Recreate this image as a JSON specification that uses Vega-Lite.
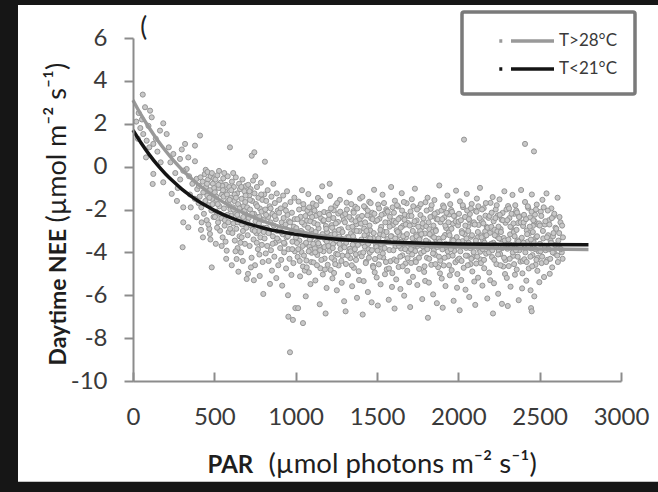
{
"$schema": "https://vega.github.io/schema/vega-lite/v6.json",
"autosize": {"type": "none"},
"width": 488, "height": 343,
"padding": {"left": 133, "top": 38, "right": 37, "bottom": 111},
"background": "#161616",
"config": {"view": {"stroke": null}, "font": "Lato"},
"datasets": {
"pts": [
{"PAR":60,"NEE":3.36},{"PAR":74,"NEE":2.77},{"PAR":105,"NEE":2.61},{"PAR":115,"NEE":2.3},{"PAR":186,"NEE":2.02},{"PAR":166,"NEE":1.68},{"PAR":207,"NEE":1.52},{"PAR":63,"NEE":1.52},{"PAR":84,"NEE":1.21},{"PAR":125,"NEE":1.06},{"PAR":80,"NEE":0.43},{"PAR":125,"NEE":-0.34},{"PAR":121,"NEE":-0.81},{"PAR":186,"NEE":-0.73},{"PAR":20,"NEE":2.1},{"PAR":35,"NEE":2.5},{"PAR":45,"NEE":1.8},{"PAR":95,"NEE":1.9},{"PAR":140,"NEE":1.3},{"PAR":150,"NEE":0.7},{"PAR":30,"NEE":1.3},{"PAR":170,"NEE":0.2},{"PAR":100,"NEE":0.9},{"PAR":55,"NEE":2.2},
{"PAR":238,"NEE":-1.27},{"PAR":309,"NEE":-1.9},{"PAR":309,"NEE":-2.6},{"PAR":340,"NEE":-2.83},{"PAR":305,"NEE":-3.76},{"PAR":320,"NEE":1.06},{"PAR":248,"NEE":0.59},{"PAR":289,"NEE":0.36},{"PAR":340,"NEE":0.43},{"PAR":381,"NEE":0.25},{"PAR":330,"NEE":-0.11},{"PAR":391,"NEE":-0.57},{"PAR":309,"NEE":-0.19},{"PAR":391,"NEE":-2.36},{"PAR":381,"NEE":0.98},{"PAR":220,"NEE":0.9},{"PAR":260,"NEE":-0.3},{"PAR":275,"NEE":-1.0},{"PAR":350,"NEE":-1.3},{"PAR":365,"NEE":-0.8},{"PAR":230,"NEE":0.2},{"PAR":290,"NEE":-0.6},{"PAR":355,"NEE":-1.9},{"PAR":380,"NEE":-1.5},{"PAR":395,"NEE":-1.05},{"PAR":270,"NEE":-1.6},{"PAR":345,"NEE":-0.45},{"PAR":300,"NEE":0.8},
{"PAR":412,"NEE":1.45},{"PAR":422,"NEE":-2.6},{"PAR":473,"NEE":-3.14},{"PAR":484,"NEE":-4.7},{"PAR":405,"NEE":-0.9},{"PAR":410,"NEE":-1.4},{"PAR":415,"NEE":-0.5},{"PAR":420,"NEE":-1.9},{"PAR":428,"NEE":-0.7},{"PAR":432,"NEE":-1.2},{"PAR":436,"NEE":-2.2},{"PAR":441,"NEE":-0.35},{"PAR":445,"NEE":-1.6},{"PAR":449,"NEE":-0.95},{"PAR":453,"NEE":-2.5},{"PAR":457,"NEE":-1.35},{"PAR":461,"NEE":-0.6},{"PAR":465,"NEE":-1.8},{"PAR":469,"NEE":-2.9},{"PAR":474,"NEE":-1.1},{"PAR":478,"NEE":-0.45},{"PAR":482,"NEE":-2.05},{"PAR":487,"NEE":-1.5},{"PAR":491,"NEE":-0.8},{"PAR":495,"NEE":-2.35},{"PAR":499,"NEE":-1.0},{"PAR":430,"NEE":-3.3},{"PAR":447,"NEE":-0.15},{"PAR":463,"NEE":-2.7},{"PAR":489,"NEE":-1.75},{"PAR":403,"NEE":-1.7},{"PAR":418,"NEE":-2.95},{"PAR":458,"NEE":-0.25},{"PAR":476,"NEE":-3.4},{"PAR":497,"NEE":-0.55},
{"PAR":535,"NEE":-2.99},{"PAR":576,"NEE":-3.92},{"PAR":596,"NEE":0.9},{"PAR":503,"NEE":-1.2},{"PAR":507,"NEE":-0.6},{"PAR":511,"NEE":-2.1},{"PAR":515,"NEE":-1.55},{"PAR":519,"NEE":-0.4},{"PAR":523,"NEE":-2.6},{"PAR":527,"NEE":-1.0},{"PAR":531,"NEE":-1.85},{"PAR":539,"NEE":-0.75},{"PAR":543,"NEE":-2.4},{"PAR":547,"NEE":-1.3},{"PAR":551,"NEE":-3.3},{"PAR":555,"NEE":-0.55},{"PAR":559,"NEE":-1.95},{"PAR":563,"NEE":-2.75},{"PAR":567,"NEE":-1.15},{"PAR":571,"NEE":-0.85},{"PAR":580,"NEE":-2.25},{"PAR":584,"NEE":-1.6},{"PAR":588,"NEE":-3.05},{"PAR":592,"NEE":-0.95},{"PAR":599,"NEE":-2.0},{"PAR":509,"NEE":-3.6},{"PAR":517,"NEE":-2.85},{"PAR":529,"NEE":-0.2},{"PAR":545,"NEE":-3.7},{"PAR":557,"NEE":-1.4},{"PAR":565,"NEE":-2.5},{"PAR":573,"NEE":-4.3},{"PAR":582,"NEE":-0.45},{"PAR":590,"NEE":-1.8},{"PAR":597,"NEE":-2.9},{"PAR":504,"NEE":-2.35},{"PAR":521,"NEE":-1.75},{"PAR":549,"NEE":-0.9},{"PAR":569,"NEE":-3.5},{"PAR":586,"NEE":-2.6},
{"PAR":637,"NEE":-4.31},{"PAR":699,"NEE":-5.24},{"PAR":602,"NEE":-1.45},{"PAR":605,"NEE":-2.3},{"PAR":608,"NEE":-0.7},{"PAR":611,"NEE":-3.1},{"PAR":614,"NEE":-1.9},{"PAR":617,"NEE":-2.65},{"PAR":620,"NEE":-0.95},{"PAR":623,"NEE":-1.6},{"PAR":626,"NEE":-3.45},{"PAR":629,"NEE":-2.15},{"PAR":632,"NEE":-0.5},{"PAR":635,"NEE":-2.9},{"PAR":640,"NEE":-1.25},{"PAR":643,"NEE":-3.8},{"PAR":646,"NEE":-1.75},{"PAR":649,"NEE":-2.45},{"PAR":652,"NEE":-0.8},{"PAR":655,"NEE":-3.25},{"PAR":658,"NEE":-1.05},{"PAR":661,"NEE":-2.0},{"PAR":664,"NEE":-4.0},{"PAR":667,"NEE":-1.5},{"PAR":670,"NEE":-2.7},{"PAR":673,"NEE":-0.6},{"PAR":676,"NEE":-3.0},{"PAR":679,"NEE":-1.85},{"PAR":682,"NEE":-2.5},{"PAR":685,"NEE":-1.15},{"PAR":688,"NEE":-3.6},{"PAR":691,"NEE":-2.2},{"PAR":694,"NEE":-0.9},{"PAR":697,"NEE":-2.85},{"PAR":607,"NEE":-4.6},{"PAR":625,"NEE":-1.3},{"PAR":644,"NEE":-2.6},{"PAR":660,"NEE":-3.55},{"PAR":675,"NEE":-4.4},{"PAR":690,"NEE":-1.65},{"PAR":616,"NEE":-0.3},{"PAR":648,"NEE":-4.9},{"PAR":668,"NEE":-3.3},{"PAR":686,"NEE":-2.05},{"PAR":630,"NEE":-3.95},
{"PAR":730,"NEE":0.51},{"PAR":746,"NEE":0.67},{"PAR":702,"NEE":-1.9},{"PAR":705,"NEE":-3.2},{"PAR":708,"NEE":-0.85},{"PAR":711,"NEE":-2.4},{"PAR":714,"NEE":-1.35},{"PAR":717,"NEE":-3.7},{"PAR":720,"NEE":-2.0},{"PAR":723,"NEE":-1.05},{"PAR":726,"NEE":-2.75},{"PAR":729,"NEE":-4.25},{"PAR":732,"NEE":-1.6},{"PAR":735,"NEE":-2.95},{"PAR":738,"NEE":-0.65},{"PAR":741,"NEE":-3.4},{"PAR":744,"NEE":-2.2},{"PAR":747,"NEE":-1.25},{"PAR":750,"NEE":-4.6},{"PAR":753,"NEE":-2.55},{"PAR":756,"NEE":-1.75},{"PAR":759,"NEE":-3.1},{"PAR":762,"NEE":-0.95},{"PAR":765,"NEE":-2.35},{"PAR":768,"NEE":-3.85},{"PAR":771,"NEE":-1.45},{"PAR":774,"NEE":-2.65},{"PAR":777,"NEE":-4.1},{"PAR":780,"NEE":-1.95},{"PAR":783,"NEE":-3.3},{"PAR":786,"NEE":-0.75},{"PAR":789,"NEE":-2.45},{"PAR":792,"NEE":-3.65},{"PAR":795,"NEE":-1.55},{"PAR":798,"NEE":-2.85},{"PAR":707,"NEE":-5.0},{"PAR":725,"NEE":-4.7},{"PAR":743,"NEE":-5.3},{"PAR":761,"NEE":-3.55},{"PAR":779,"NEE":-5.1},{"PAR":797,"NEE":-4.45},{"PAR":716,"NEE":-1.15},{"PAR":752,"NEE":-0.45},{"PAR":773,"NEE":-3.0},{"PAR":790,"NEE":-2.1},
{"PAR":811,"NEE":0.23},{"PAR":801,"NEE":-5.94},{"PAR":842,"NEE":-5.47},{"PAR":965,"NEE":-8.66},{"PAR":803,"NEE":-2.5},{"PAR":806,"NEE":-1.3},{"PAR":809,"NEE":-3.35},{"PAR":813,"NEE":-2.0},{"PAR":816,"NEE":-4.05},{"PAR":819,"NEE":-1.6},{"PAR":822,"NEE":-2.85},{"PAR":825,"NEE":-3.7},{"PAR":828,"NEE":-1.1},{"PAR":831,"NEE":-2.35},{"PAR":834,"NEE":-4.4},{"PAR":837,"NEE":-3.05},{"PAR":840,"NEE":-1.85},{"PAR":845,"NEE":-2.6},{"PAR":848,"NEE":-3.9},{"PAR":851,"NEE":-1.4},{"PAR":854,"NEE":-4.85},{"PAR":857,"NEE":-2.2},{"PAR":860,"NEE":-3.25},{"PAR":863,"NEE":-0.8},{"PAR":866,"NEE":-2.75},{"PAR":869,"NEE":-4.2},{"PAR":872,"NEE":-1.7},{"PAR":875,"NEE":-3.55},{"PAR":878,"NEE":-2.45},{"PAR":881,"NEE":-5.2},{"PAR":884,"NEE":-1.25},{"PAR":887,"NEE":-3.0},{"PAR":890,"NEE":-2.05},{"PAR":893,"NEE":-4.6},{"PAR":896,"NEE":-3.45},{"PAR":899,"NEE":-1.55},{"PAR":902,"NEE":-2.9},{"PAR":905,"NEE":-3.8},{"PAR":908,"NEE":-1.95},{"PAR":911,"NEE":-4.35},{"PAR":914,"NEE":-2.6},{"PAR":917,"NEE":-5.55},{"PAR":920,"NEE":-3.15},{"PAR":923,"NEE":-1.35},{"PAR":926,"NEE":-2.4},{"PAR":929,"NEE":-4.0},{"PAR":932,"NEE":-3.6},{"PAR":935,"NEE":-1.8},{"PAR":938,"NEE":-2.7},{"PAR":941,"NEE":-4.75},{"PAR":944,"NEE":-3.3},{"PAR":947,"NEE":-1.15},{"PAR":950,"NEE":-2.25},{"PAR":953,"NEE":-6.0},{"PAR":956,"NEE":-3.85},{"PAR":959,"NEE":-2.55},{"PAR":962,"NEE":-4.3},{"PAR":968,"NEE":-1.65},{"PAR":971,"NEE":-3.1},{"PAR":974,"NEE":-5.05},{"PAR":977,"NEE":-2.15},{"PAR":980,"NEE":-3.5},{"PAR":983,"NEE":-7.15},{"PAR":986,"NEE":-4.5},{"PAR":989,"NEE":-2.8},{"PAR":992,"NEE":-1.45},{"PAR":995,"NEE":-3.95},{"PAR":998,"NEE":-6.6},{"PAR":955,"NEE":-7.0},{"PAR":1045,"NEE":-7.3},
{"PAR":455,"NEE":-0.8},{"PAR":470,"NEE":-1.45},{"PAR":485,"NEE":-0.3},{"PAR":512,"NEE":-1.4},{"PAR":525,"NEE":-0.85},{"PAR":533,"NEE":-2.2},{"PAR":553,"NEE":-1.1},{"PAR":561,"NEE":-0.3},{"PAR":578,"NEE":-1.3},{"PAR":594,"NEE":-1.55},{"PAR":604,"NEE":-1.1},{"PAR":618,"NEE":-2.0},{"PAR":633,"NEE":-1.45},{"PAR":641,"NEE":-2.25},{"PAR":654,"NEE":-1.95},{"PAR":666,"NEE":-0.95},{"PAR":678,"NEE":-2.35},{"PAR":692,"NEE":-1.35},{"PAR":704,"NEE":-2.6},{"PAR":719,"NEE":-1.55},{"PAR":733,"NEE":-2.2},{"PAR":748,"NEE":-3.0},{"PAR":763,"NEE":-1.85},{"PAR":776,"NEE":-2.35},{"PAR":788,"NEE":-1.3},{"PAR":804,"NEE":-3.05},{"PAR":818,"NEE":-2.25},{"PAR":833,"NEE":-3.1},{"PAR":846,"NEE":-1.95},{"PAR":858,"NEE":-3.6},{"PAR":871,"NEE":-2.3},{"PAR":886,"NEE":-3.35},{"PAR":898,"NEE":-2.15},{"PAR":912,"NEE":-3.05},{"PAR":928,"NEE":-3.55},{"PAR":940,"NEE":-2.05},{"PAR":952,"NEE":-3.25},{"PAR":966,"NEE":-2.6},{"PAR":979,"NEE":-3.85},{"PAR":994,"NEE":-2.45},
{"PAR":1004,"NEE":-2.87},{"PAR":1012,"NEE":-4.21},{"PAR":1018,"NEE":-1.63},{"PAR":1023,"NEE":-3.45},{"PAR":1027,"NEE":-5.12},{"PAR":1031,"NEE":-2.34},{"PAR":1036,"NEE":-3.98},{"PAR":1041,"NEE":-3.07},{"PAR":1045,"NEE":-4.66},{"PAR":1049,"NEE":-1.95},{"PAR":1053,"NEE":-2.71},{"PAR":1058,"NEE":-3.62},{"PAR":1062,"NEE":-6.05},{"PAR":1066,"NEE":-4.38},{"PAR":1070,"NEE":-2.52},{"PAR":1074,"NEE":-3.21},{"PAR":1078,"NEE":-1.28},{"PAR":1081,"NEE":-4.93},{"PAR":1085,"NEE":-3.74},{"PAR":1088,"NEE":-2.18},{"PAR":1091,"NEE":-5.48},{"PAR":1094,"NEE":-3.33},{"PAR":1097,"NEE":-2.96},{"PAR":1099,"NEE":-4.02},{"PAR":1008,"NEE":-3.56},{"PAR":1015,"NEE":-6.6},{"PAR":1039,"NEE":-1.1},{"PAR":1056,"NEE":-4.85},{"PAR":1072,"NEE":-2.05},{"PAR":1093,"NEE":-3.88},
{"PAR":1002,"NEE":-3.3},{"PAR":1010,"NEE":-2.45},{"PAR":1016,"NEE":-3.85},{"PAR":1021,"NEE":-2.0},{"PAR":1025,"NEE":-4.4},{"PAR":1033,"NEE":-3.0},{"PAR":1038,"NEE":-2.6},{"PAR":1043,"NEE":-3.7},{"PAR":1047,"NEE":-1.75},{"PAR":1051,"NEE":-4.15},{"PAR":1055,"NEE":-3.2},{"PAR":1060,"NEE":-2.3},{"PAR":1064,"NEE":-3.55},{"PAR":1068,"NEE":-4.7},{"PAR":1076,"NEE":-2.85},{"PAR":1080,"NEE":-3.95},{"PAR":1083,"NEE":-1.9},{"PAR":1087,"NEE":-3.4},{"PAR":1090,"NEE":-2.55},{"PAR":1096,"NEE":-4.45},
{"PAR":1102,"NEE":-3.14},{"PAR":1106,"NEE":-1.72},{"PAR":1110,"NEE":-4.47},{"PAR":1114,"NEE":-2.63},{"PAR":1118,"NEE":-3.81},{"PAR":1121,"NEE":-5.31},{"PAR":1125,"NEE":-2.29},{"PAR":1129,"NEE":-3.52},{"PAR":1133,"NEE":-4.12},{"PAR":1137,"NEE":-1.46},{"PAR":1141,"NEE":-2.88},{"PAR":1145,"NEE":-3.69},{"PAR":1148,"NEE":-6.42},{"PAR":1152,"NEE":-4.74},{"PAR":1156,"NEE":-2.41},{"PAR":1160,"NEE":-3.27},{"PAR":1163,"NEE":-0.92},{"PAR":1167,"NEE":-5.03},{"PAR":1171,"NEE":-3.95},{"PAR":1175,"NEE":-2.12},{"PAR":1178,"NEE":-4.29},{"PAR":1182,"NEE":-3.41},{"PAR":1186,"NEE":-2.77},{"PAR":1190,"NEE":-5.66},{"PAR":1193,"NEE":-3.06},{"PAR":1197,"NEE":-4.58},{"PAR":1112,"NEE":-1.98},{"PAR":1139,"NEE":-3.58},{"PAR":1169,"NEE":-2.54},{"PAR":1184,"NEE":-6.85},
{"PAR":1101,"NEE":-2.35},{"PAR":1108,"NEE":-3.6},{"PAR":1116,"NEE":-2.05},{"PAR":1120,"NEE":-4.0},{"PAR":1123,"NEE":-3.05},{"PAR":1127,"NEE":-1.8},{"PAR":1131,"NEE":-4.6},{"PAR":1135,"NEE":-2.7},{"PAR":1143,"NEE":-3.3},{"PAR":1147,"NEE":-2.2},{"PAR":1150,"NEE":-3.9},{"PAR":1154,"NEE":-1.6},{"PAR":1158,"NEE":-4.35},{"PAR":1165,"NEE":-3.15},{"PAR":1173,"NEE":-2.5},{"PAR":1177,"NEE":-3.75},{"PAR":1180,"NEE":-4.8},{"PAR":1188,"NEE":-2.9},{"PAR":1192,"NEE":-3.5},{"PAR":1199,"NEE":-2.15},
{"PAR":1203,"NEE":-2.46},{"PAR":1207,"NEE":-3.93},{"PAR":1211,"NEE":-1.37},{"PAR":1215,"NEE":-4.82},{"PAR":1219,"NEE":-3.18},{"PAR":1222,"NEE":-2.73},{"PAR":1226,"NEE":-5.21},{"PAR":1230,"NEE":-3.61},{"PAR":1234,"NEE":-2.04},{"PAR":1238,"NEE":-4.36},{"PAR":1241,"NEE":-3.02},{"PAR":1245,"NEE":-1.82},{"PAR":1249,"NEE":-4.07},{"PAR":1253,"NEE":-5.77},{"PAR":1257,"NEE":-3.49},{"PAR":1260,"NEE":-2.58},{"PAR":1264,"NEE":-4.61},{"PAR":1268,"NEE":-3.26},{"PAR":1272,"NEE":-1.55},{"PAR":1276,"NEE":-3.84},{"PAR":1279,"NEE":-2.92},{"PAR":1283,"NEE":-5.42},{"PAR":1287,"NEE":-4.15},{"PAR":1290,"NEE":-2.31},{"PAR":1294,"NEE":-3.71},{"PAR":1298,"NEE":-6.28},{"PAR":1209,"NEE":-0.8},{"PAR":1236,"NEE":-4.96},{"PAR":1262,"NEE":-2.19},{"PAR":1285,"NEE":-3.37},
{"PAR":1201,"NEE":-3.7},{"PAR":1205,"NEE":-2.25},{"PAR":1213,"NEE":-3.35},{"PAR":1217,"NEE":-1.95},{"PAR":1221,"NEE":-4.25},{"PAR":1224,"NEE":-2.85},{"PAR":1228,"NEE":-3.8},{"PAR":1232,"NEE":-2.4},{"PAR":1240,"NEE":-3.15},{"PAR":1243,"NEE":-4.55},{"PAR":1247,"NEE":-2.65},{"PAR":1251,"NEE":-3.45},{"PAR":1255,"NEE":-1.7},{"PAR":1259,"NEE":-4.1},{"PAR":1266,"NEE":-2.95},{"PAR":1270,"NEE":-3.6},{"PAR":1274,"NEE":-2.1},{"PAR":1281,"NEE":-4.4},{"PAR":1288,"NEE":-3.05},{"PAR":1296,"NEE":-2.5},
{"PAR":1301,"NEE":-3.76},{"PAR":1305,"NEE":-2.21},{"PAR":1309,"NEE":-4.54},{"PAR":1313,"NEE":-1.68},{"PAR":1317,"NEE":-3.29},{"PAR":1321,"NEE":-5.06},{"PAR":1324,"NEE":-2.84},{"PAR":1328,"NEE":-3.97},{"PAR":1332,"NEE":-1.19},{"PAR":1336,"NEE":-4.27},{"PAR":1340,"NEE":-3.11},{"PAR":1343,"NEE":-2.47},{"PAR":1347,"NEE":-5.58},{"PAR":1351,"NEE":-3.64},{"PAR":1355,"NEE":-2.08},{"PAR":1358,"NEE":-4.72},{"PAR":1362,"NEE":-3.43},{"PAR":1366,"NEE":-1.87},{"PAR":1370,"NEE":-4.09},{"PAR":1373,"NEE":-2.69},{"PAR":1377,"NEE":-6.12},{"PAR":1381,"NEE":-3.54},{"PAR":1385,"NEE":-2.36},{"PAR":1388,"NEE":-4.88},{"PAR":1392,"NEE":-3.01},{"PAR":1396,"NEE":-1.49},{"PAR":1307,"NEE":-6.75},{"PAR":1334,"NEE":-3.83},{"PAR":1360,"NEE":-2.97},{"PAR":1390,"NEE":-5.29},
{"PAR":1303,"NEE":-2.6},{"PAR":1311,"NEE":-3.55},{"PAR":1315,"NEE":-2.0},{"PAR":1319,"NEE":-4.15},{"PAR":1326,"NEE":-3.3},{"PAR":1330,"NEE":-2.35},{"PAR":1338,"NEE":-3.95},{"PAR":1342,"NEE":-1.75},{"PAR":1345,"NEE":-4.6},{"PAR":1349,"NEE":-2.8},{"PAR":1353,"NEE":-3.25},{"PAR":1357,"NEE":-2.15},{"PAR":1364,"NEE":-3.85},{"PAR":1368,"NEE":-2.55},{"PAR":1371,"NEE":-4.35},{"PAR":1375,"NEE":-3.0},{"PAR":1379,"NEE":-1.95},{"PAR":1383,"NEE":-3.65},{"PAR":1394,"NEE":-2.45},{"PAR":1398,"NEE":-4.05},
{"PAR":1402,"NEE":-2.66},{"PAR":1406,"NEE":-4.18},{"PAR":1410,"NEE":-1.41},{"PAR":1414,"NEE":-3.57},{"PAR":1418,"NEE":-5.34},{"PAR":1421,"NEE":-2.89},{"PAR":1425,"NEE":-3.73},{"PAR":1429,"NEE":-1.93},{"PAR":1433,"NEE":-4.44},{"PAR":1437,"NEE":-3.22},{"PAR":1441,"NEE":-2.27},{"PAR":1444,"NEE":-5.85},{"PAR":1448,"NEE":-3.86},{"PAR":1452,"NEE":-1.64},{"PAR":1456,"NEE":-4.01},{"PAR":1459,"NEE":-2.98},{"PAR":1463,"NEE":-3.46},{"PAR":1467,"NEE":-6.33},{"PAR":1471,"NEE":-2.15},{"PAR":1475,"NEE":-4.63},{"PAR":1478,"NEE":-3.35},{"PAR":1482,"NEE":-1.08},{"PAR":1486,"NEE":-4.93},{"PAR":1490,"NEE":-2.55},{"PAR":1494,"NEE":-3.67},{"PAR":1498,"NEE":-5.17},{"PAR":1412,"NEE":-6.9},{"PAR":1439,"NEE":-3.12},{"PAR":1465,"NEE":-2.42},{"PAR":1488,"NEE":-4.31},
{"PAR":1404,"NEE":-3.4},{"PAR":1408,"NEE":-2.3},{"PAR":1416,"NEE":-4.0},{"PAR":1420,"NEE":-1.85},{"PAR":1423,"NEE":-3.2},{"PAR":1427,"NEE":-2.6},{"PAR":1431,"NEE":-4.5},{"PAR":1435,"NEE":-3.0},{"PAR":1443,"NEE":-2.05},{"PAR":1446,"NEE":-3.6},{"PAR":1450,"NEE":-4.25},{"PAR":1454,"NEE":-2.75},{"PAR":1458,"NEE":-3.35},{"PAR":1461,"NEE":-1.7},{"PAR":1469,"NEE":-3.9},{"PAR":1473,"NEE":-2.45},{"PAR":1477,"NEE":-4.7},{"PAR":1480,"NEE":-3.1},{"PAR":1484,"NEE":-2.2},{"PAR":1496,"NEE":-3.75},
{"PAR":1503,"NEE":-3.92},{"PAR":1507,"NEE":-1.77},{"PAR":1511,"NEE":-4.56},{"PAR":1515,"NEE":-2.43},{"PAR":1519,"NEE":-3.15},{"PAR":1522,"NEE":-5.49},{"PAR":1526,"NEE":-2.81},{"PAR":1530,"NEE":-3.66},{"PAR":1534,"NEE":-1.31},{"PAR":1538,"NEE":-4.24},{"PAR":1541,"NEE":-3.04},{"PAR":1545,"NEE":-2.19},{"PAR":1549,"NEE":-5.02},{"PAR":1553,"NEE":-3.53},{"PAR":1557,"NEE":-1.99},{"PAR":1560,"NEE":-4.79},{"PAR":1564,"NEE":-3.38},{"PAR":1568,"NEE":-2.61},{"PAR":1572,"NEE":-6.21},{"PAR":1576,"NEE":-3.89},{"PAR":1579,"NEE":-2.34},{"PAR":1583,"NEE":-4.41},{"PAR":1587,"NEE":-0.95},{"PAR":1590,"NEE":-3.25},{"PAR":1594,"NEE":-4.97},{"PAR":1598,"NEE":-2.72},{"PAR":1505,"NEE":-6.48},{"PAR":1532,"NEE":-3.79},{"PAR":1562,"NEE":-2.06},{"PAR":1592,"NEE":-5.61},
{"PAR":1501,"NEE":-2.5},{"PAR":1509,"NEE":-3.35},{"PAR":1513,"NEE":-1.95},{"PAR":1517,"NEE":-4.2},{"PAR":1521,"NEE":-2.95},{"PAR":1524,"NEE":-3.6},{"PAR":1528,"NEE":-2.25},{"PAR":1536,"NEE":-4.05},{"PAR":1540,"NEE":-3.2},{"PAR":1543,"NEE":-1.7},{"PAR":1547,"NEE":-3.8},{"PAR":1551,"NEE":-2.6},{"PAR":1555,"NEE":-4.45},{"PAR":1559,"NEE":-3.05},{"PAR":1566,"NEE":-2.1},{"PAR":1570,"NEE":-3.5},{"PAR":1574,"NEE":-4.75},{"PAR":1578,"NEE":-2.8},{"PAR":1585,"NEE":-3.25},{"PAR":1596,"NEE":-1.9},
{"PAR":1602,"NEE":-2.53},{"PAR":1606,"NEE":-4.33},{"PAR":1610,"NEE":-1.59},{"PAR":1614,"NEE":-3.71},{"PAR":1618,"NEE":-5.26},{"PAR":1621,"NEE":-2.97},{"PAR":1625,"NEE":-3.44},{"PAR":1629,"NEE":-1.86},{"PAR":1633,"NEE":-4.68},{"PAR":1637,"NEE":-3.09},{"PAR":1641,"NEE":-2.38},{"PAR":1644,"NEE":-5.71},{"PAR":1648,"NEE":-3.82},{"PAR":1652,"NEE":-1.24},{"PAR":1656,"NEE":-4.14},{"PAR":1659,"NEE":-2.76},{"PAR":1663,"NEE":-3.58},{"PAR":1667,"NEE":-6.02},{"PAR":1671,"NEE":-2.24},{"PAR":1675,"NEE":-4.52},{"PAR":1678,"NEE":-3.31},{"PAR":1682,"NEE":-1.71},{"PAR":1686,"NEE":-4.86},{"PAR":1690,"NEE":-2.63},{"PAR":1694,"NEE":-3.96},{"PAR":1698,"NEE":-5.39},{"PAR":1608,"NEE":-6.62},{"PAR":1639,"NEE":-3.19},{"PAR":1669,"NEE":-2.48},{"PAR":1688,"NEE":-4.27},
{"PAR":1601,"NEE":-3.9},{"PAR":1604,"NEE":-2.15},{"PAR":1612,"NEE":-3.35},{"PAR":1616,"NEE":-2.6},{"PAR":1620,"NEE":-4.4},{"PAR":1623,"NEE":-1.8},{"PAR":1627,"NEE":-3.05},{"PAR":1631,"NEE":-2.45},{"PAR":1635,"NEE":-3.7},{"PAR":1643,"NEE":-4.2},{"PAR":1646,"NEE":-2.85},{"PAR":1650,"NEE":-3.5},{"PAR":1654,"NEE":-2.05},{"PAR":1658,"NEE":-4.65},{"PAR":1661,"NEE":-3.25},{"PAR":1665,"NEE":-1.65},{"PAR":1673,"NEE":-3.85},{"PAR":1677,"NEE":-2.7},{"PAR":1684,"NEE":-3.15},{"PAR":1696,"NEE":-2.3},
{"PAR":1702,"NEE":-3.61},{"PAR":1706,"NEE":-2.09},{"PAR":1710,"NEE":-4.49},{"PAR":1714,"NEE":-1.52},{"PAR":1718,"NEE":-3.34},{"PAR":1721,"NEE":-5.14},{"PAR":1725,"NEE":-2.69},{"PAR":1729,"NEE":-3.88},{"PAR":1733,"NEE":-1.03},{"PAR":1737,"NEE":-4.36},{"PAR":1741,"NEE":-3.17},{"PAR":1744,"NEE":-2.51},{"PAR":1748,"NEE":-5.52},{"PAR":1752,"NEE":-3.47},{"PAR":1756,"NEE":-1.91},{"PAR":1759,"NEE":-4.77},{"PAR":1763,"NEE":-3.28},{"PAR":1767,"NEE":-2.26},{"PAR":1771,"NEE":-4.03},{"PAR":1775,"NEE":-2.85},{"PAR":1778,"NEE":-6.18},{"PAR":1782,"NEE":-3.73},{"PAR":1786,"NEE":-2.42},{"PAR":1790,"NEE":-4.91},{"PAR":1794,"NEE":-3.12},{"PAR":1798,"NEE":-1.66},{"PAR":1704,"NEE":-6.55},{"PAR":1735,"NEE":-3.94},{"PAR":1765,"NEE":-2.99},{"PAR":1796,"NEE":-5.33},
{"PAR":1701,"NEE":-2.75},{"PAR":1708,"NEE":-3.85},{"PAR":1712,"NEE":-2.3},{"PAR":1716,"NEE":-4.1},{"PAR":1720,"NEE":-3.0},{"PAR":1723,"NEE":-1.85},{"PAR":1727,"NEE":-3.55},{"PAR":1731,"NEE":-2.55},{"PAR":1739,"NEE":-4.45},{"PAR":1743,"NEE":-3.25},{"PAR":1746,"NEE":-2.0},{"PAR":1750,"NEE":-3.7},{"PAR":1754,"NEE":-2.8},{"PAR":1758,"NEE":-4.25},{"PAR":1761,"NEE":-3.4},{"PAR":1769,"NEE":-1.75},{"PAR":1773,"NEE":-3.15},{"PAR":1780,"NEE":-2.65},{"PAR":1788,"NEE":-3.95},{"PAR":1792,"NEE":-4.65},
{"PAR":1803,"NEE":-2.78},{"PAR":1807,"NEE":-4.25},{"PAR":1811,"NEE":-1.45},{"PAR":1815,"NEE":-3.52},{"PAR":1819,"NEE":-5.41},{"PAR":1822,"NEE":-2.92},{"PAR":1826,"NEE":-3.69},{"PAR":1830,"NEE":-1.97},{"PAR":1834,"NEE":-4.58},{"PAR":1838,"NEE":-3.23},{"PAR":1842,"NEE":-2.31},{"PAR":1845,"NEE":-5.96},{"PAR":1849,"NEE":-3.91},{"PAR":1853,"NEE":-1.56},{"PAR":1857,"NEE":-4.11},{"PAR":1860,"NEE":-2.94},{"PAR":1864,"NEE":-3.42},{"PAR":1868,"NEE":-6.37},{"PAR":1872,"NEE":-2.13},{"PAR":1876,"NEE":-4.69},{"PAR":1879,"NEE":-3.36},{"PAR":1883,"NEE":-0.88},{"PAR":1887,"NEE":-4.98},{"PAR":1890,"NEE":-2.59},{"PAR":1894,"NEE":-3.63},{"PAR":1898,"NEE":-5.22},{"PAR":1813,"NEE":-7.05},{"PAR":1840,"NEE":-3.05},{"PAR":1866,"NEE":-2.45},{"PAR":1889,"NEE":-4.39},
{"PAR":1801,"NEE":-3.45},{"PAR":1805,"NEE":-2.05},{"PAR":1809,"NEE":-3.85},{"PAR":1817,"NEE":-2.6},{"PAR":1821,"NEE":-4.3},{"PAR":1824,"NEE":-3.15},{"PAR":1828,"NEE":-2.35},{"PAR":1832,"NEE":-3.7},{"PAR":1836,"NEE":-1.8},{"PAR":1844,"NEE":-4.05},{"PAR":1847,"NEE":-2.75},{"PAR":1851,"NEE":-3.3},{"PAR":1855,"NEE":-2.2},{"PAR":1859,"NEE":-4.55},{"PAR":1862,"NEE":-3.0},{"PAR":1870,"NEE":-3.75},{"PAR":1874,"NEE":-2.45},{"PAR":1881,"NEE":-4.2},{"PAR":1885,"NEE":-3.5},{"PAR":1896,"NEE":-2.05},
{"PAR":1902,"NEE":-3.86},{"PAR":1906,"NEE":-1.81},{"PAR":1910,"NEE":-4.61},{"PAR":1914,"NEE":-2.37},{"PAR":1918,"NEE":-3.19},{"PAR":1921,"NEE":-5.57},{"PAR":1925,"NEE":-2.86},{"PAR":1929,"NEE":-3.71},{"PAR":1933,"NEE":-1.35},{"PAR":1937,"NEE":-4.19},{"PAR":1941,"NEE":-3.08},{"PAR":1944,"NEE":-2.23},{"PAR":1948,"NEE":-5.07},{"PAR":1952,"NEE":-3.59},{"PAR":1956,"NEE":-2.02},{"PAR":1959,"NEE":-4.83},{"PAR":1963,"NEE":-3.41},{"PAR":1967,"NEE":-2.66},{"PAR":1971,"NEE":-6.26},{"PAR":1975,"NEE":-3.93},{"PAR":1978,"NEE":-2.29},{"PAR":1982,"NEE":-4.46},{"PAR":1986,"NEE":-1.12},{"PAR":1990,"NEE":-3.29},{"PAR":1994,"NEE":-5.01},{"PAR":1998,"NEE":-2.74},{"PAR":1904,"NEE":-6.58},{"PAR":1931,"NEE":-3.77},{"PAR":1961,"NEE":-2.11},{"PAR":1992,"NEE":-5.65},
{"PAR":1901,"NEE":-2.45},{"PAR":1908,"NEE":-3.3},{"PAR":1912,"NEE":-1.9},{"PAR":1916,"NEE":-4.25},{"PAR":1920,"NEE":-2.75},{"PAR":1923,"NEE":-3.6},{"PAR":1927,"NEE":-2.15},{"PAR":1935,"NEE":-3.95},{"PAR":1939,"NEE":-2.6},{"PAR":1943,"NEE":-4.6},{"PAR":1946,"NEE":-3.2},{"PAR":1950,"NEE":-1.75},{"PAR":1954,"NEE":-3.85},{"PAR":1958,"NEE":-2.9},{"PAR":1965,"NEE":-4.15},{"PAR":1969,"NEE":-3.45},{"PAR":1973,"NEE":-2.3},{"PAR":1980,"NEE":-3.7},{"PAR":1984,"NEE":-2.55},{"PAR":1996,"NEE":-4.35},
{"PAR":2002,"NEE":-2.57},{"PAR":2006,"NEE":-4.29},{"PAR":2010,"NEE":-1.62},{"PAR":2014,"NEE":-3.67},{"PAR":2018,"NEE":-5.29},{"PAR":2021,"NEE":-3.01},{"PAR":2025,"NEE":-3.48},{"PAR":2029,"NEE":-1.89},{"PAR":2033,"NEE":-4.72},{"PAR":2037,"NEE":-3.13},{"PAR":2041,"NEE":-2.35},{"PAR":2044,"NEE":-5.74},{"PAR":2048,"NEE":-3.79},{"PAR":2052,"NEE":-1.27},{"PAR":2056,"NEE":-4.16},{"PAR":2059,"NEE":-2.79},{"PAR":2063,"NEE":-3.55},{"PAR":2067,"NEE":-6.08},{"PAR":2071,"NEE":-2.21},{"PAR":2075,"NEE":-4.55},{"PAR":2078,"NEE":-3.27},{"PAR":2082,"NEE":-1.74},{"PAR":2086,"NEE":-4.89},{"PAR":2090,"NEE":-2.67},{"PAR":2094,"NEE":-3.99},{"PAR":2098,"NEE":-5.36},{"PAR":2008,"NEE":-6.7},{"PAR":2039,"NEE":-3.16},{"PAR":2069,"NEE":-2.51},{"PAR":2088,"NEE":-4.23},{"PAR":2035,"NEE":1.26},
{"PAR":2001,"NEE":-3.5},{"PAR":2004,"NEE":-2.2},{"PAR":2012,"NEE":-3.95},{"PAR":2016,"NEE":-2.5},{"PAR":2020,"NEE":-4.4},{"PAR":2023,"NEE":-3.1},{"PAR":2027,"NEE":-1.8},{"PAR":2031,"NEE":-3.7},{"PAR":2043,"NEE":-2.75},{"PAR":2046,"NEE":-4.15},{"PAR":2050,"NEE":-3.35},{"PAR":2054,"NEE":-2.05},{"PAR":2058,"NEE":-4.6},{"PAR":2061,"NEE":-3.0},{"PAR":2065,"NEE":-2.45},{"PAR":2073,"NEE":-3.8},{"PAR":2077,"NEE":-1.95},{"PAR":2080,"NEE":-4.3},{"PAR":2084,"NEE":-3.2},{"PAR":2096,"NEE":-2.6},
{"PAR":2102,"NEE":-3.64},{"PAR":2106,"NEE":-2.06},{"PAR":2110,"NEE":-4.52},{"PAR":2114,"NEE":-1.49},{"PAR":2118,"NEE":-3.31},{"PAR":2121,"NEE":-5.18},{"PAR":2125,"NEE":-2.72},{"PAR":2129,"NEE":-3.85},{"PAR":2133,"NEE":-0.99},{"PAR":2137,"NEE":-4.33},{"PAR":2141,"NEE":-3.21},{"PAR":2144,"NEE":-2.54},{"PAR":2148,"NEE":-5.55},{"PAR":2152,"NEE":-3.44},{"PAR":2156,"NEE":-1.94},{"PAR":2159,"NEE":-4.74},{"PAR":2163,"NEE":-3.24},{"PAR":2167,"NEE":-2.29},{"PAR":2171,"NEE":-4.06},{"PAR":2175,"NEE":-2.82},{"PAR":2178,"NEE":-6.15},{"PAR":2182,"NEE":-3.76},{"PAR":2186,"NEE":-2.39},{"PAR":2190,"NEE":-4.94},{"PAR":2194,"NEE":-3.09},{"PAR":2198,"NEE":-1.69},{"PAR":2104,"NEE":-6.45},{"PAR":2135,"NEE":-3.97},{"PAR":2165,"NEE":-3.02},{"PAR":2196,"NEE":-5.3},
{"PAR":2101,"NEE":-2.7},{"PAR":2108,"NEE":-3.45},{"PAR":2112,"NEE":-2.1},{"PAR":2116,"NEE":-4.2},{"PAR":2120,"NEE":-3.05},{"PAR":2123,"NEE":-1.85},{"PAR":2127,"NEE":-3.65},{"PAR":2131,"NEE":-2.4},{"PAR":2139,"NEE":-4.5},{"PAR":2143,"NEE":-3.3},{"PAR":2146,"NEE":-2.0},{"PAR":2150,"NEE":-3.85},{"PAR":2154,"NEE":-2.65},{"PAR":2158,"NEE":-4.35},{"PAR":2161,"NEE":-3.55},{"PAR":2169,"NEE":-1.7},{"PAR":2173,"NEE":-3.2},{"PAR":2180,"NEE":-2.85},{"PAR":2188,"NEE":-4.0},{"PAR":2192,"NEE":-2.3},
{"PAR":2203,"NEE":-2.81},{"PAR":2207,"NEE":-4.22},{"PAR":2211,"NEE":-1.42},{"PAR":2215,"NEE":-3.55},{"PAR":2219,"NEE":-5.44},{"PAR":2222,"NEE":-2.95},{"PAR":2226,"NEE":-3.66},{"PAR":2230,"NEE":-2.0},{"PAR":2234,"NEE":-4.55},{"PAR":2238,"NEE":-3.26},{"PAR":2242,"NEE":-2.28},{"PAR":2245,"NEE":-5.93},{"PAR":2249,"NEE":-3.94},{"PAR":2253,"NEE":-1.53},{"PAR":2257,"NEE":-4.08},{"PAR":2260,"NEE":-2.91},{"PAR":2264,"NEE":-3.39},{"PAR":2268,"NEE":-6.4},{"PAR":2272,"NEE":-2.16},{"PAR":2276,"NEE":-4.66},{"PAR":2279,"NEE":-3.33},{"PAR":2283,"NEE":-1.15},{"PAR":2287,"NEE":-5.01},{"PAR":2290,"NEE":-2.62},{"PAR":2294,"NEE":-3.6},{"PAR":2298,"NEE":-5.19},{"PAR":2213,"NEE":-6.85},{"PAR":2240,"NEE":-3.02},{"PAR":2266,"NEE":-2.48},{"PAR":2289,"NEE":-4.36},
{"PAR":2201,"NEE":-3.6},{"PAR":2205,"NEE":-2.15},{"PAR":2209,"NEE":-3.9},{"PAR":2217,"NEE":-2.55},{"PAR":2221,"NEE":-4.35},{"PAR":2224,"NEE":-3.2},{"PAR":2228,"NEE":-2.4},{"PAR":2232,"NEE":-3.75},{"PAR":2236,"NEE":-1.8},{"PAR":2244,"NEE":-4.1},{"PAR":2247,"NEE":-2.8},{"PAR":2251,"NEE":-3.35},{"PAR":2255,"NEE":-2.25},{"PAR":2259,"NEE":-4.6},{"PAR":2262,"NEE":-3.05},{"PAR":2270,"NEE":-3.8},{"PAR":2274,"NEE":-2.5},{"PAR":2281,"NEE":-4.25},{"PAR":2285,"NEE":-3.45},{"PAR":2296,"NEE":-2.0},
{"PAR":2302,"NEE":-3.83},{"PAR":2306,"NEE":-1.84},{"PAR":2310,"NEE":-4.64},{"PAR":2314,"NEE":-2.4},{"PAR":2318,"NEE":-3.16},{"PAR":2321,"NEE":-5.6},{"PAR":2325,"NEE":-2.83},{"PAR":2329,"NEE":-3.74},{"PAR":2333,"NEE":-1.32},{"PAR":2337,"NEE":-4.16},{"PAR":2341,"NEE":-3.05},{"PAR":2344,"NEE":-2.2},{"PAR":2348,"NEE":-5.04},{"PAR":2352,"NEE":-3.62},{"PAR":2356,"NEE":-2.05},{"PAR":2359,"NEE":-4.8},{"PAR":2363,"NEE":-3.44},{"PAR":2367,"NEE":-2.63},{"PAR":2371,"NEE":-6.23},{"PAR":2375,"NEE":-3.9},{"PAR":2378,"NEE":-2.32},{"PAR":2382,"NEE":-4.43},{"PAR":2386,"NEE":-1.09},{"PAR":2390,"NEE":-3.32},{"PAR":2394,"NEE":-4.98},{"PAR":2398,"NEE":-2.77},{"PAR":2304,"NEE":-6.5},{"PAR":2331,"NEE":-3.8},{"PAR":2361,"NEE":-2.14},{"PAR":2392,"NEE":-5.68},
{"PAR":2301,"NEE":-2.5},{"PAR":2308,"NEE":-3.4},{"PAR":2312,"NEE":-1.95},{"PAR":2316,"NEE":-4.3},{"PAR":2320,"NEE":-2.8},{"PAR":2323,"NEE":-3.65},{"PAR":2327,"NEE":-2.2},{"PAR":2335,"NEE":-4.0},{"PAR":2339,"NEE":-2.65},{"PAR":2343,"NEE":-4.55},{"PAR":2346,"NEE":-3.25},{"PAR":2350,"NEE":-1.8},{"PAR":2354,"NEE":-3.9},{"PAR":2358,"NEE":-2.95},{"PAR":2365,"NEE":-4.2},{"PAR":2369,"NEE":-3.5},{"PAR":2373,"NEE":-2.35},{"PAR":2380,"NEE":-3.75},{"PAR":2384,"NEE":-2.6},{"PAR":2396,"NEE":-4.4},
{"PAR":2402,"NEE":-2.6},{"PAR":2406,"NEE":-4.32},{"PAR":2410,"NEE":-1.65},{"PAR":2414,"NEE":-3.7},{"PAR":2418,"NEE":-5.32},{"PAR":2421,"NEE":-2.98},{"PAR":2425,"NEE":-3.51},{"PAR":2429,"NEE":-1.92},{"PAR":2433,"NEE":-4.75},{"PAR":2437,"NEE":-3.1},{"PAR":2441,"NEE":-2.37},{"PAR":2444,"NEE":-5.77},{"PAR":2448,"NEE":-3.82},{"PAR":2452,"NEE":-1.3},{"PAR":2456,"NEE":-4.13},{"PAR":2459,"NEE":-2.76},{"PAR":2463,"NEE":-3.52},{"PAR":2467,"NEE":-6.05},{"PAR":2471,"NEE":-2.24},{"PAR":2475,"NEE":-4.58},{"PAR":2478,"NEE":-3.3},{"PAR":2482,"NEE":-1.77},{"PAR":2486,"NEE":-4.86},{"PAR":2490,"NEE":-2.7},{"PAR":2494,"NEE":-3.96},{"PAR":2498,"NEE":-5.39},{"PAR":2447,"NEE":-6.6},{"PAR":2451,"NEE":-6.75},{"PAR":2469,"NEE":-2.54},{"PAR":2488,"NEE":-4.26},{"PAR":2410,"NEE":1.06},{"PAR":2465,"NEE":0.71},
{"PAR":2401,"NEE":-3.55},{"PAR":2404,"NEE":-2.25},{"PAR":2412,"NEE":-4.0},{"PAR":2416,"NEE":-2.45},{"PAR":2420,"NEE":-4.45},{"PAR":2423,"NEE":-3.15},{"PAR":2427,"NEE":-1.85},{"PAR":2431,"NEE":-3.75},{"PAR":2439,"NEE":-2.8},{"PAR":2443,"NEE":-4.2},{"PAR":2446,"NEE":-3.4},{"PAR":2450,"NEE":-2.1},{"PAR":2454,"NEE":-4.65},{"PAR":2458,"NEE":-3.05},{"PAR":2461,"NEE":-2.5},{"PAR":2473,"NEE":-3.85},{"PAR":2477,"NEE":-2.0},{"PAR":2480,"NEE":-4.35},{"PAR":2484,"NEE":-3.25},{"PAR":2496,"NEE":-2.65},
{"PAR":2502,"NEE":-3.6},{"PAR":2507,"NEE":-2.1},{"PAR":2512,"NEE":-4.5},{"PAR":2517,"NEE":-1.55},{"PAR":2522,"NEE":-3.35},{"PAR":2527,"NEE":-5.15},{"PAR":2532,"NEE":-2.7},{"PAR":2537,"NEE":-3.9},{"PAR":2542,"NEE":-1.25},{"PAR":2547,"NEE":-4.35},{"PAR":2552,"NEE":-3.2},{"PAR":2557,"NEE":-2.5},{"PAR":2562,"NEE":-5.0},{"PAR":2567,"NEE":-3.45},{"PAR":2572,"NEE":-1.95},{"PAR":2577,"NEE":-4.7},{"PAR":2582,"NEE":-3.25},{"PAR":2587,"NEE":-2.3},{"PAR":2592,"NEE":-4.05},{"PAR":2597,"NEE":-2.85},{"PAR":2605,"NEE":-3.75},{"PAR":2612,"NEE":-4.45},{"PAR":2620,"NEE":-3.1},{"PAR":2628,"NEE":-2.6},{"PAR":2636,"NEE":-4.0},{"PAR":2643,"NEE":-3.3},{"PAR":2610,"NEE":-1.45},
{"PAR":2501,"NEE":-2.75},{"PAR":2505,"NEE":-3.95},{"PAR":2510,"NEE":-2.3},{"PAR":2515,"NEE":-4.2},{"PAR":2520,"NEE":-3.0},{"PAR":2525,"NEE":-1.9},{"PAR":2530,"NEE":-3.7},{"PAR":2535,"NEE":-2.55},{"PAR":2540,"NEE":-4.45},{"PAR":2545,"NEE":-3.3},{"PAR":2550,"NEE":-2.05},{"PAR":2555,"NEE":-3.85},{"PAR":2560,"NEE":-2.7},{"PAR":2565,"NEE":-4.3},{"PAR":2570,"NEE":-3.55},{"PAR":2575,"NEE":-2.4},{"PAR":2580,"NEE":-4.0},{"PAR":2585,"NEE":-3.1},{"PAR":2590,"NEE":-2.2},{"PAR":2595,"NEE":-3.65},{"PAR":2602,"NEE":-2.9},{"PAR":2608,"NEE":-4.15},{"PAR":2615,"NEE":-3.45},{"PAR":2622,"NEE":-2.35},{"PAR":2630,"NEE":-3.85},{"PAR":2638,"NEE":-2.75},{"PAR":2641,"NEE":-4.3}
],
"fit": [
{"PAR":0,"NEE":3.1,"T":"T>28°C"},{"PAR":50,"NEE":2.41,"T":"T>28°C"},{"PAR":100,"NEE":1.8,"T":"T>28°C"},{"PAR":150,"NEE":1.24,"T":"T>28°C"},{"PAR":200,"NEE":0.74,"T":"T>28°C"},{"PAR":250,"NEE":0.28,"T":"T>28°C"},{"PAR":300,"NEE":-0.13,"T":"T>28°C"},{"PAR":350,"NEE":-0.49,"T":"T>28°C"},{"PAR":400,"NEE":-0.83,"T":"T>28°C"},{"PAR":450,"NEE":-1.12,"T":"T>28°C"},{"PAR":500,"NEE":-1.39,"T":"T>28°C"},{"PAR":600,"NEE":-1.86,"T":"T>28°C"},{"PAR":700,"NEE":-2.23,"T":"T>28°C"},{"PAR":800,"NEE":-2.54,"T":"T>28°C"},{"PAR":900,"NEE":-2.79,"T":"T>28°C"},{"PAR":1000,"NEE":-2.99,"T":"T>28°C"},{"PAR":1200,"NEE":-3.28,"T":"T>28°C"},{"PAR":1400,"NEE":-3.47,"T":"T>28°C"},{"PAR":1600,"NEE":-3.6,"T":"T>28°C"},{"PAR":1800,"NEE":-3.69,"T":"T>28°C"},{"PAR":2000,"NEE":-3.75,"T":"T>28°C"},{"PAR":2400,"NEE":-3.83,"T":"T>28°C"},{"PAR":2800,"NEE":-3.87,"T":"T>28°C"},
{"PAR":0,"NEE":1.7,"T":"T<21°C"},{"PAR":50,"NEE":1.1,"T":"T<21°C"},{"PAR":100,"NEE":0.56,"T":"T<21°C"},{"PAR":150,"NEE":0.08,"T":"T<21°C"},{"PAR":200,"NEE":-0.34,"T":"T<21°C"},{"PAR":250,"NEE":-0.71,"T":"T<21°C"},{"PAR":300,"NEE":-1.05,"T":"T<21°C"},{"PAR":350,"NEE":-1.34,"T":"T<21°C"},{"PAR":400,"NEE":-1.6,"T":"T<21°C"},{"PAR":450,"NEE":-1.83,"T":"T<21°C"},{"PAR":500,"NEE":-2.04,"T":"T<21°C"},{"PAR":600,"NEE":-2.38,"T":"T<21°C"},{"PAR":700,"NEE":-2.65,"T":"T<21°C"},{"PAR":800,"NEE":-2.86,"T":"T<21°C"},{"PAR":900,"NEE":-3.03,"T":"T<21°C"},{"PAR":1000,"NEE":-3.16,"T":"T<21°C"},{"PAR":1200,"NEE":-3.35,"T":"T<21°C"},{"PAR":1400,"NEE":-3.46,"T":"T<21°C"},{"PAR":1600,"NEE":-3.53,"T":"T<21°C"},{"PAR":1800,"NEE":-3.58,"T":"T<21°C"},{"PAR":2000,"NEE":-3.61,"T":"T<21°C"},{"PAR":2400,"NEE":-3.63,"T":"T<21°C"},{"PAR":2800,"NEE":-3.64,"T":"T<21°C"}
]
},
"layer": [
{
"data": {"values": [{}]},
"mark": {"type": "rect", "fill": "white", "clip": false},
"encoding": {
"x": {"datum": -707, "type": "quantitative", "scale": {"domain": [0, 3000], "nice": false, "zero": false}, "axis": null},
"x2": {"datum": 3300},
"y": {"datum": 7.54, "type": "quantitative", "scale": {"domain": [-10, 6], "nice": false, "zero": false}, "axis": null},
"y2": {"datum": -14.7}
}
},
{
"data": {"name": "pts"},
"mark": {"type": "circle", "fill": "#c8c8c8", "stroke": "#959595", "strokeWidth": 1, "size": 26, "opacity": 1},
"encoding": {
"x": {"field": "PAR", "type": "quantitative", "scale": {"domain": [0, 3000], "nice": false, "zero": false},
"axis": {"orient": "bottom", "values": [0, 500, 1000, 1500, 2000, 2500, 3000], "labelExpr": "'' + datum.value", "labelFlush": false, "labelOverlap": false, "tickSize": -9, "tickWidth": 2, "tickColor": "#8c8c8c", "domainColor": "#8c8c8c", "domainWidth": 2, "labelFont": "Lato", "labelFontSize": 24, "labelColor": "#3a3a3a", "labelPadding": 33, "grid": false, "title": "PAR", "titleFont": "Lato", "titleFontWeight": "bold", "titleFontSize": 24, "titleColor": "#1e1e1e", "titleX": 74, "titleY": 91, "titleAlign": "left", "titleBaseline": "alphabetic", "titleAngle": 0, "zindex": 1}},
"y": {"field": "NEE", "type": "quantitative", "scale": {"domain": [-10, 6], "nice": false, "zero": false},
"axis": {"orient": "left", "values": [-10, -8, -6, -4, -2, 0, 2, 4, 6], "labelExpr": "'' + datum.value", "labelFlush": false, "labelOverlap": false, "tickSize": 9, "tickWidth": 2, "tickColor": "#8c8c8c", "domainColor": "#8c8c8c", "domainWidth": 2, "labelFont": "Lato", "labelFontSize": 24, "labelColor": "#3a3a3a", "labelPadding": 17, "grid": false, "title": "Daytime NEE", "titleFont": "Lato", "titleFontWeight": "bold", "titleFontSize": 23, "titleColor": "#1e1e1e", "titleX": -68, "titleY": 327, "titleAngle": 270, "titleAlign": "left", "titleBaseline": "alphabetic", "zindex": 1}}
}
},
{
"data": {"name": "fit"},
"mark": {"type": "line", "strokeWidth": 3.5, "interpolate": "monotone"},
"encoding": {
"x": {"field": "PAR", "type": "quantitative", "scale": {"domain": [0, 3000], "nice": false, "zero": false},
"axis": {"orient": "bottom", "labels": false, "ticks": false, "domain": false, "grid": false, "title": "(µmol photons m⁻² s⁻¹)", "titleFont": "Lato", "titleFontWeight": "normal", "titleFontSize": 27.5, "titleColor": "#1e1e1e", "titleX": 135, "titleY": 91, "titleAlign": "left", "titleBaseline": "alphabetic", "titleAngle": 0, "zindex": 1}},
"y": {"field": "NEE", "type": "quantitative", "scale": {"domain": [-10, 6], "nice": false, "zero": false},
"axis": {"orient": "left", "labels": false, "ticks": false, "domain": false, "grid": false, "title": "(µmol m⁻² s⁻¹)", "titleFont": "Lato", "titleFontWeight": "normal", "titleFontSize": 27, "titleColor": "#1e1e1e", "titleX": -68, "titleY": 184, "titleAngle": 270, "titleAlign": "left", "titleBaseline": "alphabetic", "zindex": 1}},
"color": {"field": "T", "type": "nominal", "scale": {"domain": ["T>28°C", "T<21°C"], "range": ["#999999", "#141414"]},
"legend": {"orient": "none", "legendX": 329, "legendY": -26, "title": null, "symbolType": "M-0.97,0L-0.67,0M0.2,0L4.5,0", "symbolSize": 400, "symbolStrokeWidth": 3.5, "symbolOffset": 18, "labelOffset": 38, "labelFont": "Lato", "labelFontSize": 17, "labelColor": "#3a3a3a", "labelExpr": "datum.label + '\u00a0\u00a0\u00a0\u00a0\u00a0\u00a0'", "padding": 17, "rowPadding": 8, "strokeColor": "#7a7a7a", "fillColor": "white", "cornerRadius": 2,
"encode": {"legend": {"update": {"strokeWidth": {"value": 3.5}}}}}}
}
},
{
"data": {"values": [{}]},
"mark": {"type": "text", "text": "(", "font": "Lato", "fontSize": 26, "color": "#222222", "align": "left", "baseline": "alphabetic", "clip": false},
"encoding": {
"x": {"datum": 45, "type": "quantitative", "scale": {"domain": [0, 3000], "nice": false, "zero": false}, "axis": null},
"y": {"datum": 6.1, "type": "quantitative", "scale": {"domain": [-10, 6], "nice": false, "zero": false}, "axis": null}
}
}
],
"resolve": {"axis": {"x": "independent", "y": "independent"}}
}
